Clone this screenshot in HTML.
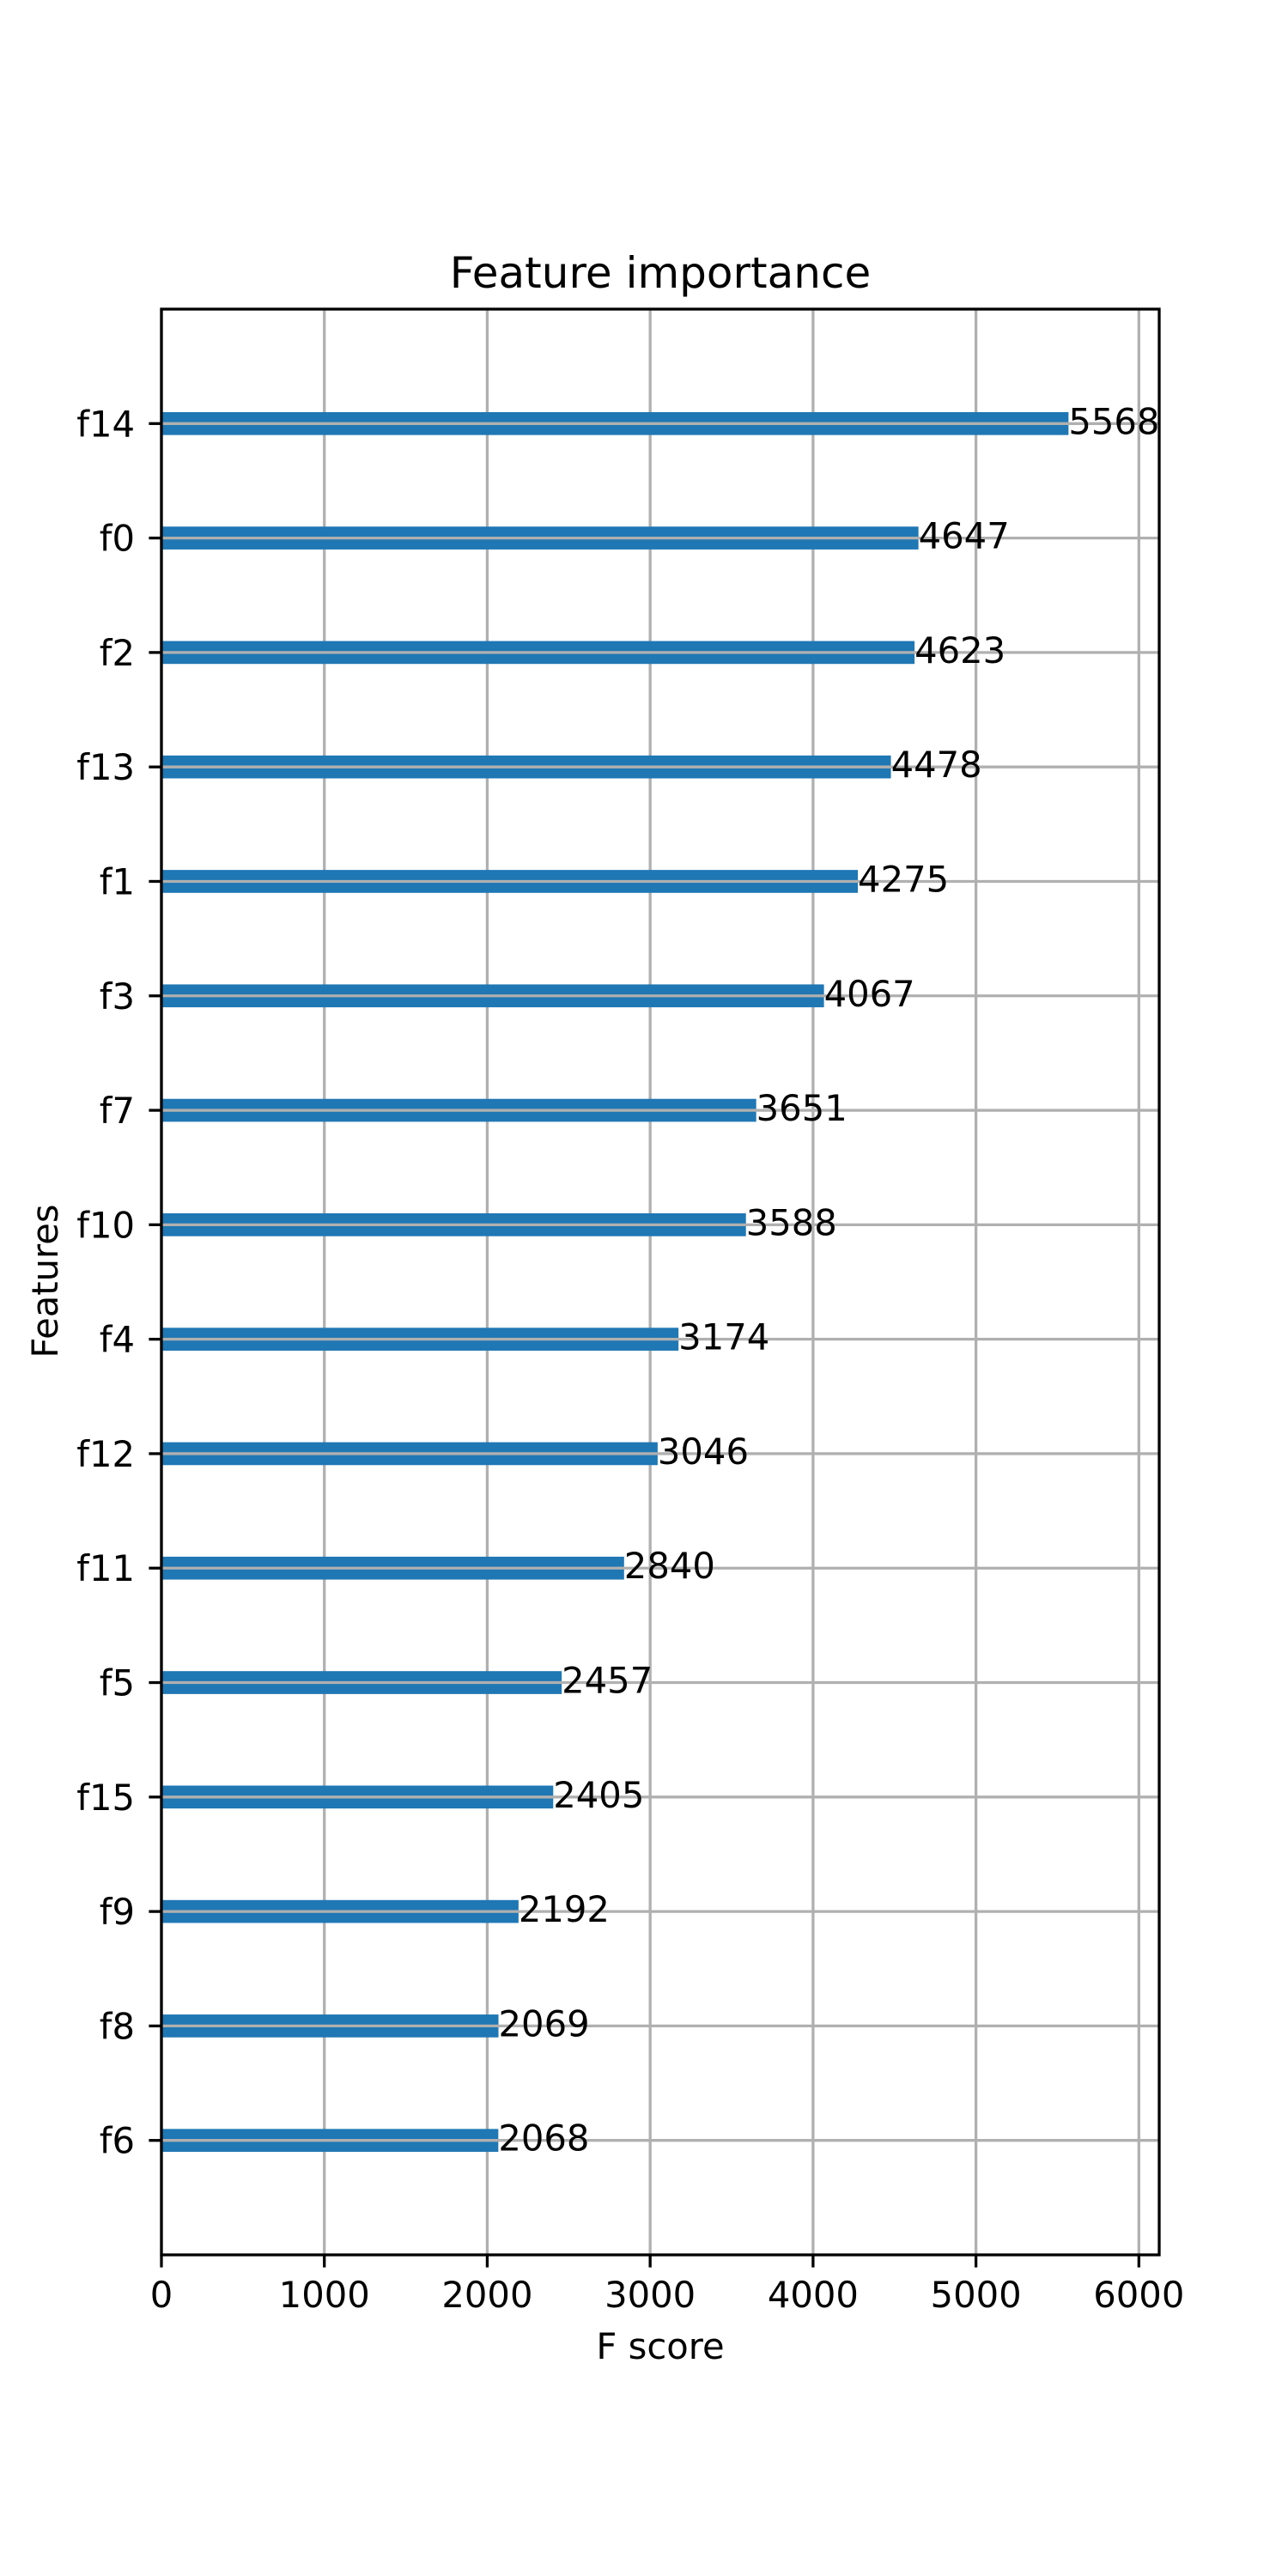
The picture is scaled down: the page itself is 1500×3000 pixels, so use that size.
<!DOCTYPE html>
<html><head><meta charset="utf-8"><title>Feature importance</title>
<style>html,body{margin:0;padding:0;background:#fff}svg{display:block}text{font-family:"DejaVu Sans","Liberation Sans",sans-serif;fill:#000}</style>
</head><body>
<svg id="chart" xmlns="http://www.w3.org/2000/svg" width="1500" height="3000" viewBox="0 0 1500 3000">
<rect width="1500" height="3000" fill="#fff"/>
<g id="grid"></g>
<g id="bars"></g>
<g id="axes"></g>
<text x="769" y="335" font-size="50" text-anchor="middle">Feature importance</text>
<text x="769" y="2747" font-size="41.7" text-anchor="middle">F score</text>
<text transform="translate(67,1492) rotate(-90)" font-size="41.7" text-anchor="middle">Features</text>
</svg>
<script>
const features = ["f6","f8","f9","f15","f5","f11","f12","f4","f10","f7","f3","f1","f13","f2","f0","f14"];
const scores = [2068,2069,2192,2405,2457,2840,3046,3174,3588,3651,4067,4275,4478,4623,4647,5568];
const xTicks = [0,1000,2000,3000,4000,5000,6000];
const xTickLabels = ["0","1000","2000","3000","4000","5000","6000"];

const NS = "http://www.w3.org/2000/svg";
const L = 188, R = 1350, T = 360, B = 2626;
const xMax = Math.max(...scores) * 1.1;
const yMin = -1, yMax = features.length;
function xs(v){ return L + (v / xMax) * (R - L); }
function ys(i){ return T + (yMax - i) / (yMax - yMin) * (B - T); }
const unit = (B - T) / (yMax - yMin);
function mk(tag, attrs, parent){ const e = document.createElementNS(NS, tag); for (const k in attrs) e.setAttribute(k, attrs[k]); parent.appendChild(e); return e; }
const grid = document.getElementById('grid'), bars = document.getElementById('bars'), axes = document.getElementById('axes');

xTicks.forEach((t, k) => {
  const x = xs(t);
  const gl = mk('line', {x1:x, x2:x, y1:T, y2:B, stroke:'#b0b0b0', 'stroke-width':3.3}, grid);
  
  
  const tk = mk('line', {x1:x, x2:x, y1:B, y2:B+14.6, stroke:'#000', 'stroke-width':3.3}, axes);
  
  
  const tl = mk('text', {x:x, y:2687, 'font-size':41.7, 'text-anchor':'middle'}, axes);
  tl.textContent = xTickLabels[k];
  
  
});

features.forEach((f, i) => {
  const cy = ys(i);
  const h = 0.2 * unit;
  const bar = mk('rect', {x:L, y:cy - h/2, width:xs(scores[i]) - L, height:h, fill:'#1f77b4'}, bars);
  
  
  const gl = mk('line', {x1:L, x2:R, y1:cy, y2:cy, stroke:'#b0b0b0', 'stroke-width':3.3}, bars);
  
  
  const vl = mk('text', {x:xs(scores[i]), y:cy + 12, 'font-size':41.7}, bars);
  vl.textContent = String(scores[i]);
  
  
  const tk = mk('line', {x1:L - 14.6, x2:L, y1:cy, y2:cy, stroke:'#000', 'stroke-width':3.3}, axes);
  
  
  const tl = mk('text', {x:157, y:cy + 15, 'font-size':41.7, 'text-anchor':'end'}, axes);
  tl.textContent = f;
  
  
});

const frame = mk('rect', {x:L, y:T, width:R - L, height:B - T, fill:'none', stroke:'#000', 'stroke-width':3.3}, axes);


</script>
</body></html>
